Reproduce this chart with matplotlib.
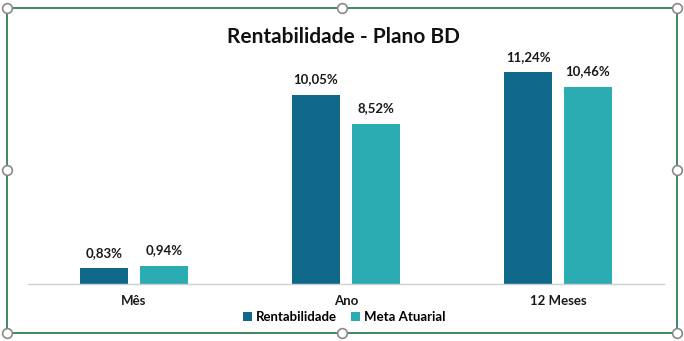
import numpy as np
import matplotlib.pyplot as plt
from matplotlib.patches import Rectangle

categories = ['Mês', 'Ano', '12 Meses']
rentabilidade = [0.83, 10.05, 11.24]
meta_atuarial = [0.94, 8.52, 10.46]
series_names = ['Rentabilidade', 'Meta Atuarial']

dark = '#10688A'
light = '#2AACB2'

plt.rcParams['font.family'] = ['Lato', 'DejaVu Sans']

W, H = 684, 341
fig = plt.figure(figsize=(W / 100, H / 100), dpi=100)

# plot area in pixel coords
left, right, top, bottom = 28, 664, 58, 284
ax = fig.add_axes([left / W, 1 - bottom / H, (right - left) / W, (bottom - top) / H])

x = np.arange(len(categories))
bw = 0.222
off = 0.1415
b1 = ax.bar(x - off, rentabilidade, bw, color=dark, label=series_names[0])
b2 = ax.bar(x + off, meta_atuarial, bw, color=light, label=series_names[1])

for bars, vals in [(b1, rentabilidade), (b2, meta_atuarial)]:
    for b, v in zip(bars, vals):
        ax.annotate(f'{v:.2f}%'.replace('.', ','), (b.get_x() + b.get_width() / 2, v),
                    xytext=(0, 7), textcoords='offset points', ha='center', va='bottom',
                    fontsize=9.5, fontweight='bold', color='#1a1a1a')

ax.set_xlim(-0.5, len(categories) - 0.5)
ax.set_ylim(0, 12)
ax.set_xticks(x)
ax.set_xticklabels(categories, fontsize=9.5, fontweight='bold', color='#1a1a1a')
ax.tick_params(axis='x', length=0, pad=8)
ax.set_yticks([])
for s in ['top', 'right', 'left']:
    ax.spines[s].set_visible(False)
ax.spines['bottom'].set_color('#d0d0d0')
ax.spines['bottom'].set_linewidth(1)

fig.text(343 / W, 1 - 37 / H, 'Rentabilidade - Plano BD', ha='center', va='center',
         fontsize=15, fontweight='bold', color='#111111')

fig.legend(loc='center', bbox_to_anchor=(344 / W, 1 - 317 / H), ncol=2, frameon=False,
           handlelength=0.65, handleheight=0.65, handletextpad=0.3,
           columnspacing=1.1, prop={'size': 9.5, 'weight': 'bold'})

# selected chart frame with handles
fig.patches.append(Rectangle((7 / W, 1 - 333 / H), 670 / W, 325 / H, transform=fig.transFigure,
                             fill=False, edgecolor='#217346', linewidth=1.2))
for px, py in [(7, 8), (342, 8), (677, 8), (7, 170), (677, 170), (7, 333), (342, 333), (677, 333)]:
    fig.add_artist(plt.Line2D([px / W], [1 - py / H], marker='o', markersize=7,
                              markerfacecolor='white', markeredgecolor='#8a8a8a',
                              markeredgewidth=1.2, transform=fig.transFigure))

fig.savefig('out.png', dpi=100)
